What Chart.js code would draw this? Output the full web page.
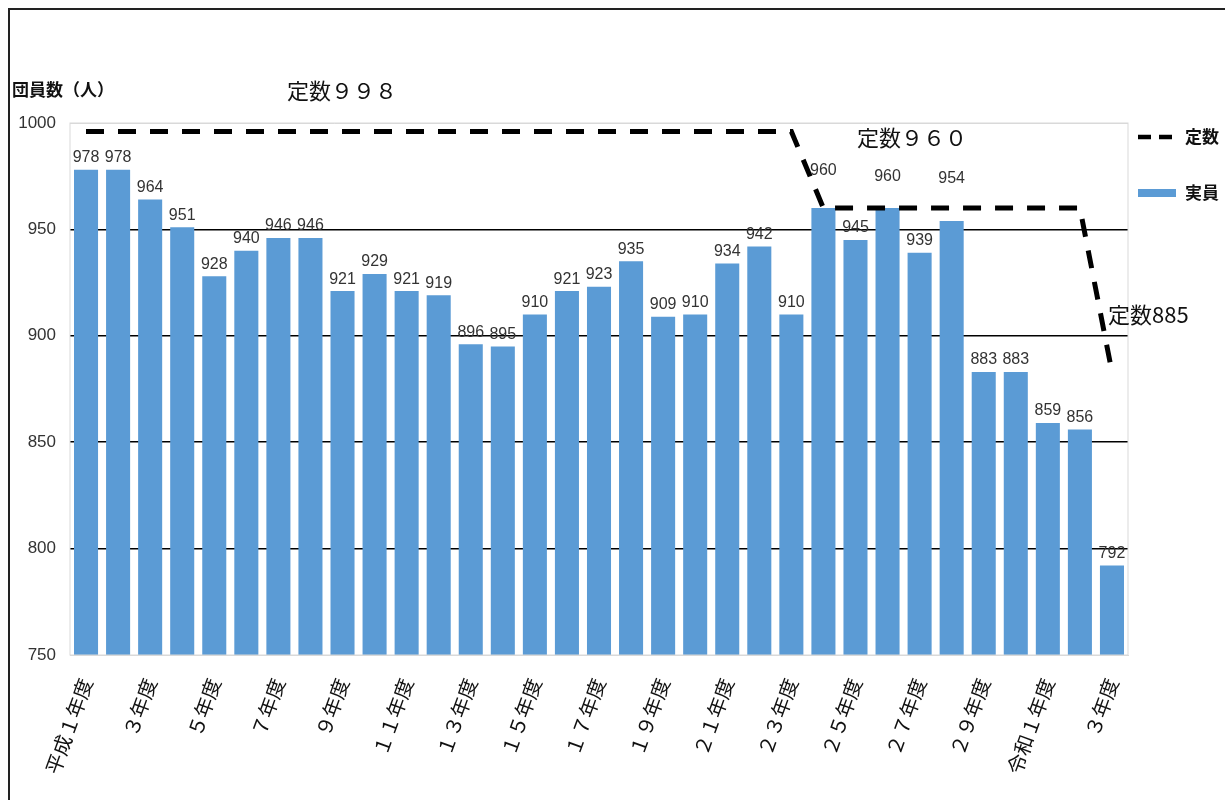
<!DOCTYPE html>
<html>
<head>
<meta charset="utf-8">
<script src="https://cdn.jsdelivr.net/npm/chart.js@4"></script>
<style>
  html, body { margin: 0; padding: 0; background: #fff; }
  #wrap { width: 1225px; height: 800px; position: relative; }
</style>
</head>
<body>
<div id="wrap"><canvas id="chart"></canvas></div>
<script>
// ===== Dados
const years = [
  '平成１年度', '平成２年度', '３年度', '４年度', '５年度', '６年度', '７年度', '８年度', '９年度', '１０年度',
  '１１年度', '１２年度', '１３年度', '１４年度', '１５年度', '１６年度', '１７年度', '１８年度', '１９年度', '２０年度',
  '２１年度', '２２年度', '２３年度', '２４年度', '２５年度', '２６年度', '２７年度', '２８年度', '２９年度', '３０年度',
  '令和１年度', '２年度', '３年度'
];
const members = [978, 978, 964, 951, 928, 940, 946, 946, 921, 929, 921, 919, 896, 895, 910, 921, 923, 935, 909, 910,
  934, 942, 910, 960, 945, 960, 939, 954, 883, 883, 859, 856, 792];
// 定数ライン（図から読み取った位置）
const quota = [996, 996, 996, 996, 996, 996, 996, 996, 996, 996, 996, 996, 996, 996, 996, 996, 996, 996, 996, 996,
  996, 996, 996, 960, 960, 960, 960, 960, 960, 960, 960, 960, 883];
const yTicks = [750, 800, 850, 900, 950, 1000];

const BLUE = '#5b9bd5';
const NUM_FONT = "'Liberation Sans Narrow', 'Liberation Sans', sans-serif";
const JP_FONT = "'Noto Sans CJK JP', sans-serif";
// rótulos levantados acima da linha tracejada (px)
const labelLift = { 23: 26, 25: 20, 27: 30 };

// ===== Plugin: moldura, rótulos, anotações e legenda
const extras = {
  id: 'extras',
  afterDatasetsDraw(chart) {
    const { ctx, chartArea: a } = chart;
    ctx.save();
    // borda da área do gráfico
    ctx.strokeStyle = '#d9d9d9';
    ctx.lineWidth = 1;
    ctx.strokeRect(a.left, a.top, a.right - a.left, a.bottom - a.top);

    // valores sobre as barras
    const meta = chart.getDatasetMeta(1);
    ctx.fillStyle = '#333';
    ctx.font = `16px ${NUM_FONT}`;
    ctx.textAlign = 'center';
    ctx.textBaseline = 'bottom';
    meta.data.forEach((el, i) => ctx.fillText(members[i], el.x, el.y - 4 - (labelLift[i] || 0)));

    // anotações de texto
    ctx.fillStyle = '#111';
    ctx.textAlign = 'left';
    ctx.textBaseline = 'middle';
    ctx.font = `bold 17px ${JP_FONT}`;
    ctx.fillText('団員数（人）', 12, 90);
    ctx.font = `22px ${JP_FONT}`;
    ctx.fillText('定数９９８', 287, 91);
    ctx.fillText('定数９６０', 857, 138);
    ctx.fillText('定数885', 1108, 315);

    // legenda
    ctx.strokeStyle = '#000';
    ctx.lineWidth = 4.5;
    ctx.setLineDash([13, 8]);
    ctx.beginPath(); ctx.moveTo(1138, 137); ctx.lineTo(1176, 137); ctx.stroke();
    ctx.setLineDash([]);
    ctx.fillStyle = BLUE;
    ctx.fillRect(1138, 189, 38, 8);
    ctx.fillStyle = '#111';
    ctx.font = `bold 17px ${JP_FONT}`;
    ctx.fillText('定数', 1185, 137);
    ctx.fillText('実員', 1185, 193);

    // moldura externa
    ctx.strokeStyle = '#222';
    ctx.lineWidth = 2;
    ctx.strokeRect(9, 9, 1240, 820);
    ctx.restore();
  }
};

new Chart(document.getElementById('chart'), {
  data: {
    labels: years,
    datasets: [
      { type: 'line', label: '定数', data: quota, borderColor: '#000', borderWidth: 5, borderDash: [18, 14],
        pointRadius: 0, tension: 0, fill: false, order: 0 },
      { type: 'bar', label: '実員', data: members, backgroundColor: BLUE, barPercentage: 0.75, categoryPercentage: 1, order: 1 }
    ]
  },
  options: {
    responsive: true,
    maintainAspectRatio: false,
    animation: false,
    layout: { padding: { left: 0, top: 123, right: 97, bottom: 0 } },
    plugins: { legend: { display: false }, tooltip: { enabled: false } },
    scales: {
      x: {
        grid: { display: false },
        border: { color: '#d9d9d9' },
        afterFit: (s) => { s.height = 145; },
        ticks: {
          autoSkip: false, minRotation: 70, maxRotation: 70, padding: 12,
          color: '#111', font: { family: JP_FONT, size: 20 },
          callback: (v, i) => (i % 2 === 0 ? years[i] : '')
        }
      },
      y: {
        min: 750, max: 1000,
        afterFit: (s) => { s.width = 70; },
        afterBuildTicks: (s) => { s.ticks = yTicks.map(v => ({ value: v })); },
        border: { display: false },
        grid: {
          color: (c) => (c.tick && (c.tick.value === 750 || c.tick.value === 1000) ? '#d9d9d9' : '#000'),
          lineWidth: (c) => (c.tick && (c.tick.value === 750 || c.tick.value === 1000) ? 1 : 1.6),
          drawTicks: false
        },
        ticks: { color: '#333', padding: 14, font: { family: NUM_FONT, size: 17 }, callback: (v) => String(v) }
      }
    }
  },
  plugins: [extras]
});
</script>
</body>
</html>
